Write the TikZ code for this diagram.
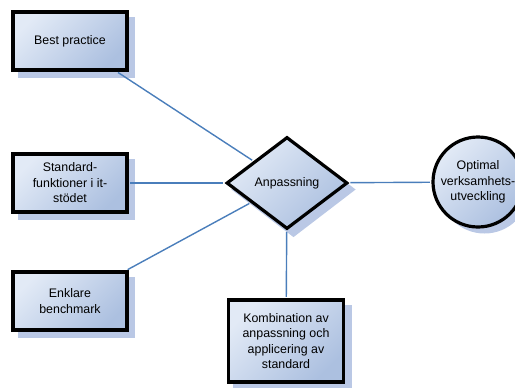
\documentclass[tikz,border=0pt]{standalone}
\usepackage{fontspec}
\setmainfont{Liberation Sans}
\usetikzlibrary{shapes.geometric}

\definecolor{fillhi}{RGB}{226,234,246}
\definecolor{filllo}{RGB}{172,192,224}
\definecolor{shadowc}{RGB}{186,200,229}
\definecolor{linkc}{RGB}{74,126,187}

\pgfdeclarelayer{background}
\pgfsetlayers{background,main}

\tikzset{
  block/.style={
    draw=black, line width=3.2bp,
    top color=fillhi, bottom color=filllo, shading angle=45,
    align=center, inner sep=2bp,
    font=\fontsize{12.4bp}{15.5bp}\selectfont
  },
  box/.style={block, rectangle, minimum width=114bp, minimum height=58bp},
  decision/.style={block, diamond, minimum width=121bp, minimum height=92bp, shape aspect=1.3},
  goal/.style={block, circle, minimum size=90bp, inner sep=0pt},
  link/.style={draw=linkc, line width=1.4bp, shorten <=1.6bp, shorten >=1.6bp},
  dropshade/.style={fill=shadowc}
}

\begin{document}
\begin{tikzpicture}[x=1bp, y=-1bp]
  \useasboundingbox (0,0) rectangle (515,387);

  % source blocks on the left
  \node[box] (best) at (70,41) {Best practice};
  \node[box] (std)  at (70,183) {Standard-\\funktioner i it-\\stödet};
  \node[box] (enk)  at (70,301) {Enklare\\benchmark};

  % central decision and the outcomes
  \node[decision] (anp) at (287,183) {Anpassning};
  \node[goal] (opt) at (478,182) {Optimal\\verksamhets-\\utveckling};
  \node[box, minimum width=115bp, minimum height=82bp] (komb) at (286,341)
    {Kombination av\\anpassning och\\applicering av\\standard};

  % offset shadows behind every block
  \begin{pgfonlayer}{background}
    \foreach \n in {best,std,enk,komb}
      \fill[dropshade] ([shift={(6.5,6.5)}]\n.south west) rectangle ([shift={(6.5,6.5)}]\n.north east);
    \fill[dropshade] ([shift={(6.5,6.5)}]anp.north) -- ([shift={(6.5,6.5)}]anp.east)
      -- ([shift={(6.5,6.5)}]anp.south) -- ([shift={(6.5,6.5)}]anp.west) -- cycle;
    \fill[dropshade] ([shift={(6.5,6.5)}]opt.center) circle[radius=45];
  \end{pgfonlayer}

  % connectors
  \draw[link] (best) -- (anp);
  \draw[link] (std) -- (anp);
  \draw[link] (enk) -- (anp);
  \draw[link] (anp) -- (opt);
  \draw[link] (anp) -- (komb);
\end{tikzpicture}
\end{document}
